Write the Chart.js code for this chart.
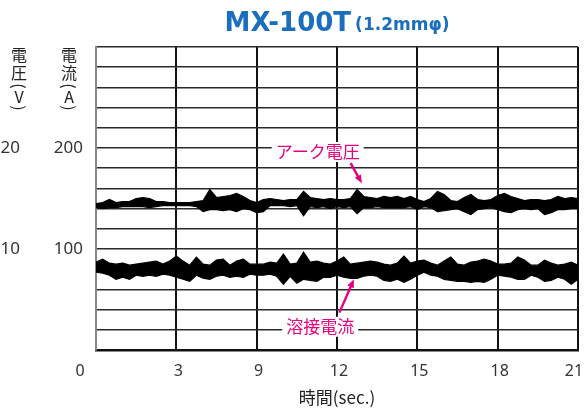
<!DOCTYPE html>
<html lang="ja">
<head>
<meta charset="utf-8">
<title>MX-100T</title>
<script src="https://cdn.jsdelivr.net/npm/chart.js@4.4.1/dist/chart.umd.min.js"></script>
<style>
  html, body { margin: 0; padding: 0; background: #fff; }
  #wrap { width: 588px; height: 410px; }
</style>
</head>
<body>
<div id="wrap"><canvas id="weldChart"></canvas></div>
<script>
// samples per grid division (x axis has 6 divisions)
const SAMPLES_PER_DIV = 12;
const xTickLabels = ['0', '3', '9', '12', '15', '18', '21'];
const currentTicks = [100, 200];
const voltageTicks = [10, 20];

// arc voltage (V), upper / lower edge of the trace
const voltHigh = [14.5, 14.6, 14.9, 14.6, 14.7, 14.7, 15.0, 15.1, 15.0, 14.7,
  14.7, 14.6, 14.6, 14.6, 14.6, 14.7, 14.8, 15.9, 15.1, 15.2,
  15.3, 15.5, 15.2, 14.8, 14.6, 14.9, 15.0, 14.9, 14.8, 14.9,
  14.9, 15.7, 15.1, 15.0, 14.9, 15.0, 14.9, 14.9, 15.0, 15.9,
  15.2, 15.1, 15.0, 15.2, 15.1, 15.2, 15.0, 15.2, 14.9, 14.7,
  15.0, 15.7, 15.4, 14.8, 14.7, 15.1, 15.4, 14.9, 14.8, 14.9,
  15.3, 15.5, 15.2, 15.0, 14.8, 14.9, 14.9, 14.8, 14.9, 15.2,
  15.0, 15.1, 15.0];
const voltLow = [14.1, 14.0, 14.1, 14.1, 14.2, 14.2, 14.2, 14.2, 14.1, 14.2,
  14.3, 14.3, 14.3, 14.3, 14.3, 14.2, 13.7, 13.9, 13.9, 13.8,
  13.9, 13.7, 14.0, 13.9, 13.6, 13.7, 14.3, 14.3, 14.3, 14.2,
  14.3, 13.3, 14.2, 14.1, 14.2, 14.0, 14.2, 14.1, 14.2, 13.5,
  14.1, 14.1, 14.2, 14.1, 14.1, 14.1, 14.1, 14.2, 13.9, 14.2,
  14.1, 13.7, 13.8, 13.9, 14.0, 13.7, 13.4, 13.9, 14.0, 14.1,
  13.9, 13.7, 13.6, 13.9, 14.0, 13.9, 14.0, 13.4, 13.6, 13.9,
  13.9, 14.0, 14.0];

// welding current (A), upper / lower edge of the trace
const curHigh = [87, 90, 86, 85, 86, 84, 85, 86, 87, 88,
  85, 88, 93, 88, 84, 92, 85, 84, 89, 90,
  84, 88, 90, 85, 85, 85, 87, 86, 95, 85,
  86, 97, 87, 88, 86, 85, 88, 92, 85, 86,
  87, 88, 87, 85, 84, 86, 93, 86, 88, 89,
  86, 84, 88, 92, 85, 84, 87, 88, 90, 88,
  85, 85, 86, 92, 89, 84, 84, 89, 86, 84,
  85, 87, 84];
const curLow = [77, 76, 74, 70, 72, 70, 74, 73, 74, 73,
  75, 74, 72, 70, 68, 74, 71, 70, 73, 74,
  72, 73, 72, 75, 74, 74, 75, 73, 65, 73,
  66, 70, 69, 68, 72, 72, 74, 72, 71, 71,
  73, 74, 73, 69, 68, 70, 67, 70, 74, 77,
  74, 73, 70, 69, 68, 68, 67, 68, 67, 70,
  74, 73, 72, 70, 70, 74, 72, 68, 69, 72,
  70, 65, 70];

// callouts, placed in (division, current A) coordinates
const callouts = [
  { text: 'アーク電圧', at: [2.76, 196], from: [3.17, 185], to: [3.31, 165] },
  { text: '溶接電流', at: [2.79, 23], from: [3.03, 37], to: [3.21, 70] }
];

const toPoints = arr => arr.map((v, i) => ({ x: i / SAMPLES_PER_DIV, y: v }));

const traceStyle = {
  borderColor: '#000',
  backgroundColor: '#000',
  borderWidth: 1.2,
  pointRadius: 0,
  tension: 0
};

const PINK = '#e4007f';
const TEXT = '#333';

function drawArrow(ctx, x1, y1, x2, y2) {
  const ang = Math.atan2(y2 - y1, x2 - x1);
  const head = 9;
  ctx.strokeStyle = PINK;
  ctx.fillStyle = PINK;
  ctx.lineWidth = 2.4;
  ctx.beginPath();
  ctx.moveTo(x1, y1);
  ctx.lineTo(x2 - Math.cos(ang) * head * 0.8, y2 - Math.sin(ang) * head * 0.8);
  ctx.stroke();
  ctx.beginPath();
  ctx.moveTo(x2, y2);
  ctx.lineTo(x2 - head * Math.cos(ang - 0.4), y2 - head * Math.sin(ang - 0.4));
  ctx.lineTo(x2 - head * Math.cos(ang + 0.4), y2 - head * Math.sin(ang + 0.4));
  ctx.closePath();
  ctx.fill();
}

// upright CJK chars with sideways brackets, like vertical typesetting
function drawVerticalTitle(ctx, cx, parts) {
  parts.forEach(p => {
    ctx.save();
    ctx.translate(cx, p.y);
    if (p.rot) ctx.rotate(Math.PI / 2);
    ctx.fillText(p.ch, 0, 0);
    ctx.restore();
  });
}

const labelPlugin = {
  id: 'weldLabels',
  afterDraw(chart) {
    const { ctx, chartArea, scales } = chart;
    const xs = scales.x, ys = scales.y;
    ctx.save();

    // title
    const main = 'MX-100T';
    const sub = '(1.2mmφ)';
    const mainFont = 'bold 26px "DejaVu Sans", sans-serif';
    const subFont = 'bold 17px "DejaVu Sans", sans-serif';
    ctx.font = mainFont;
    const mw = ctx.measureText(main).width;
    ctx.font = subFont;
    const sw = ctx.measureText(sub).width;
    const gap = 4;
    const cx = (chartArea.left + chartArea.right) / 2;
    const tx = cx - (mw + gap + sw) / 2;
    ctx.fillStyle = '#1a6ebd';
    ctx.textBaseline = 'alphabetic';
    ctx.textAlign = 'left';
    ctx.font = mainFont;
    ctx.fillText(main, tx, 31);
    ctx.font = subFont;
    ctx.fillText(sub, tx + mw + gap, 30);

    // axis titles (vertical)
    ctx.fillStyle = '#222';
    ctx.textAlign = 'center';
    ctx.textBaseline = 'middle';
    ctx.font = '16px "Noto Sans CJK JP", sans-serif';
    drawVerticalTitle(ctx, 19, [
      { ch: '電', y: 55 }, { ch: '圧', y: 73 },
      { ch: '(', y: 86, rot: true }, { ch: 'V', y: 97 }, { ch: ')', y: 108, rot: true }
    ]);
    drawVerticalTitle(ctx, 69, [
      { ch: '電', y: 55 }, { ch: '流', y: 73 },
      { ch: '(', y: 86, rot: true }, { ch: 'A', y: 97 }, { ch: ')', y: 108, rot: true }
    ]);

    // x tick labels
    ctx.fillStyle = TEXT;
    ctx.font = '16px "Noto Sans", sans-serif';
    xTickLabels.forEach((lab, i) => {
      let px = xs.getPixelForValue(i);
      if (i === 0) px -= 18;
      ctx.fillText(lab, px + (i === xTickLabels.length - 1 ? -4 : 2), 371);
    });

    // x axis title
    ctx.fillStyle = '#222';
    ctx.font = '17px "Noto Sans CJK JP", sans-serif';
    ctx.fillText('時間(sec.)', cx, 398);

    // callouts
    ctx.font = '17px "Noto Sans CJK JP", sans-serif';
    callouts.forEach(c => {
      const px = xs.getPixelForValue(c.at[0]);
      const py = ys.getPixelForValue(c.at[1]);
      const w = ctx.measureText(c.text).width;
      ctx.fillStyle = '#fff';
      ctx.fillRect(px - w / 2 - 4, py - 10, w + 8, 20);
      ctx.fillStyle = PINK;
      ctx.fillText(c.text, px, py);
      drawArrow(ctx,
        xs.getPixelForValue(c.from[0]), ys.getPixelForValue(c.from[1]),
        xs.getPixelForValue(c.to[0]), ys.getPixelForValue(c.to[1]));
    });

    ctx.restore();
  }
};

new Chart(document.getElementById('weldChart'), {
  type: 'line',
  data: {
    datasets: [
      { ...traceStyle, label: 'voltHigh', data: toPoints(voltHigh), yAxisID: 'yv', fill: false },
      { ...traceStyle, label: 'voltLow', data: toPoints(voltLow), yAxisID: 'yv', fill: '-1' },
      { ...traceStyle, label: 'curHigh', data: toPoints(curHigh), yAxisID: 'y', fill: false },
      { ...traceStyle, label: 'curLow', data: toPoints(curLow), yAxisID: 'y', fill: '-1' }
    ]
  },
  options: {
    responsive: true,
    maintainAspectRatio: false,
    animation: false,
    layout: { padding: { left: 0, top: 47, right: 10, bottom: 60 } },
    plugins: {
      legend: { display: false },
      tooltip: { enabled: false }
    },
    scales: {
      x: {
        type: 'linear',
        min: 0,
        max: xTickLabels.length - 1,
        ticks: { display: false, stepSize: 1 },
        grid: {
          drawTicks: false,
          color: ctx => ctx.index === 0 ? '#888' : '#111',
          lineWidth: 2
        },
        border: { color: '#111', width: 2.5 },
        afterFit: s => { s.height = 0; }
      },
      y: {
        position: 'left',
        weight: 0,
        min: 0,
        max: 300,
        ticks: {
          stepSize: 20,
          autoSkip: false,
          padding: 13,
          color: TEXT,
          font: { family: '"Noto Sans", sans-serif', size: 17 },
          callback: v => currentTicks.includes(v) ? String(v) : ''
        },
        grid: { drawTicks: false, color: '#2a2a2a', lineWidth: 1.5 },
        border: { color: '#888', width: 2 },
        afterFit: s => { s.width = 56; }
      },
      yv: {
        position: 'left',
        weight: 1,
        min: 0,
        max: 30,
        ticks: {
          stepSize: 10,
          autoSkip: false,
          padding: 12,
          color: TEXT,
          font: { family: '"Noto Sans", sans-serif', size: 17 },
          callback: v => voltageTicks.includes(v) ? String(v) : ''
        },
        grid: { display: false },
        border: { display: false },
        afterFit: s => { s.width = 40; }
      }
    }
  },
  plugins: [labelPlugin]
});
</script>
</body>
</html>
